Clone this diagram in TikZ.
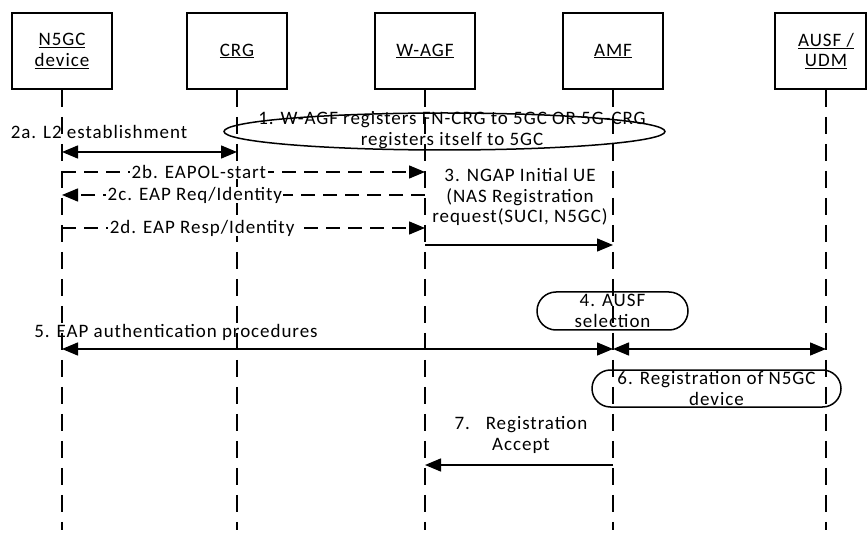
\documentclass[tikz,border=0pt]{standalone}
\usepackage{fontspec}
\setmainfont{Carlito}[LetterSpace=5]
\usetikzlibrary{arrows.meta,shapes.geometric,shapes.misc}
\begin{document}
\begin{tikzpicture}[x=1pt,y=-1pt,
 every node/.style={font=\fontsize{19}{20.5}\selectfont, inner sep=0pt},
 actor/.style={draw, line width=1.6pt, minimum width=100pt, minimum height=76pt, align=center},
 lifeline/.style={line width=1.5pt, dash pattern=on 17pt off 10pt},
 msg/.style={line width=1.5pt, -{Triangle[length=16pt,width=13pt]}},
 bimsg/.style={line width=1.5pt, {Triangle[length=16pt,width=13pt]}-{Triangle[length=16pt,width=13pt]}},
 dmsg/.style={msg, dash pattern=on 14pt off 8pt},
 lbl/.style={fill=white, inner xsep=1.5pt, inner ysep=0pt},
 txt/.style={align=center},
 proc/.style={draw, line width=1.5pt, align=center}]
\useasboundingbox (0,0) rectangle (867,534);
% actors
\node[actor] (n5gc) at (62,51) {\underline{N5GC}\\\underline{device}};
\node[actor] (crg) at (237,51) {\underline{CRG}};
\node[actor] (wagf) at (425,51) {\underline{W-AGF}};
\node[actor] (amf) at (613,51) {\underline{AMF}};
\node[actor, minimum width=91pt] (ausf) at (820.5,51) {};
\node[txt] (ausfT) at (826,51) {\underline{AUSF /}\\\underline{UDM}};
% y levels
\coordinate (yend) at (0,530);
\coordinate (y2a) at (0,152);
\coordinate (y2b) at (0,172);
\coordinate (y2c) at (0,195);
\coordinate (y2d) at (0,228);
\coordinate (y3) at (0,245);
\coordinate (y5) at (0,349);
\coordinate (y7) at (0,465);
% lifelines
\draw[lifeline] (n5gc.south) -- (n5gc |- yend);
\draw[lifeline] (crg.south) -- (crg |- yend);
\draw[lifeline] (wagf.south) -- (wagf |- yend);
\draw[lifeline] (amf.south) -- (amf |- yend);
\draw[lifeline] (ausfT |- ausf.south) -- (ausfT |- yend);
% step 1
\node[ellipse, draw, line width=1.5pt, minimum width=441pt, minimum height=37pt] (e1) at (444.5,131.5) {};
\node[txt] (t1) at (452,130) {1. W-AGF registers FN-CRG to 5GC OR 5G-CRG\\registers itself to 5GC};
% step 2a
\node (t2a) at (99,132) {2a. L2 establishment};
\draw[bimsg] (n5gc |- y2a) -- (crg |- y2a);
% 2b-2d
\draw[dmsg] (n5gc |- y2b) -- node[lbl, pos=0.377] (t2b) {2b. EAPOL-start} (wagf |- y2b);
\draw[dmsg] (wagf |- y2c) -- node[lbl, pos=0.634] (t2c) {2c. EAP Req/Identity} (n5gc |- y2c);
\draw[dmsg] (n5gc |- y2d) -- node[lbl, pos=0.386] (t2d) {2d. EAP Resp/Identity} (wagf |- y2d);
% step 3
\node[txt] (t3) at (520,197) {3. NGAP Initial UE\\(NAS Registration\\request(SUCI, N5GC)};
\draw[msg] (wagf |- y3) -- (amf |- y3);
% step 4
\node[proc, rounded rectangle, minimum width=151pt, minimum height=38pt] (s4) at (612.5,311) {4. AUSF\\selection};
% step 5
\node (t5) at (176,332) {5. EAP authentication procedures};
\draw[bimsg] (n5gc |- y5) -- (amf |- y5);
\draw[bimsg] (amf |- y5) -- (ausfT |- y5);
% step 6
\node[proc, rounded rectangle, minimum width=249pt, minimum height=37pt] (s6) at (716.5,388.5) {6. Registration of N5GC\\device};
% step 7
\node[txt] (t7) at (521,435) {7.\ \ \ Registration\\Accept};
\draw[msg] (amf |- y7) -- (wagf |- y7);
\end{tikzpicture}
\end{document}
